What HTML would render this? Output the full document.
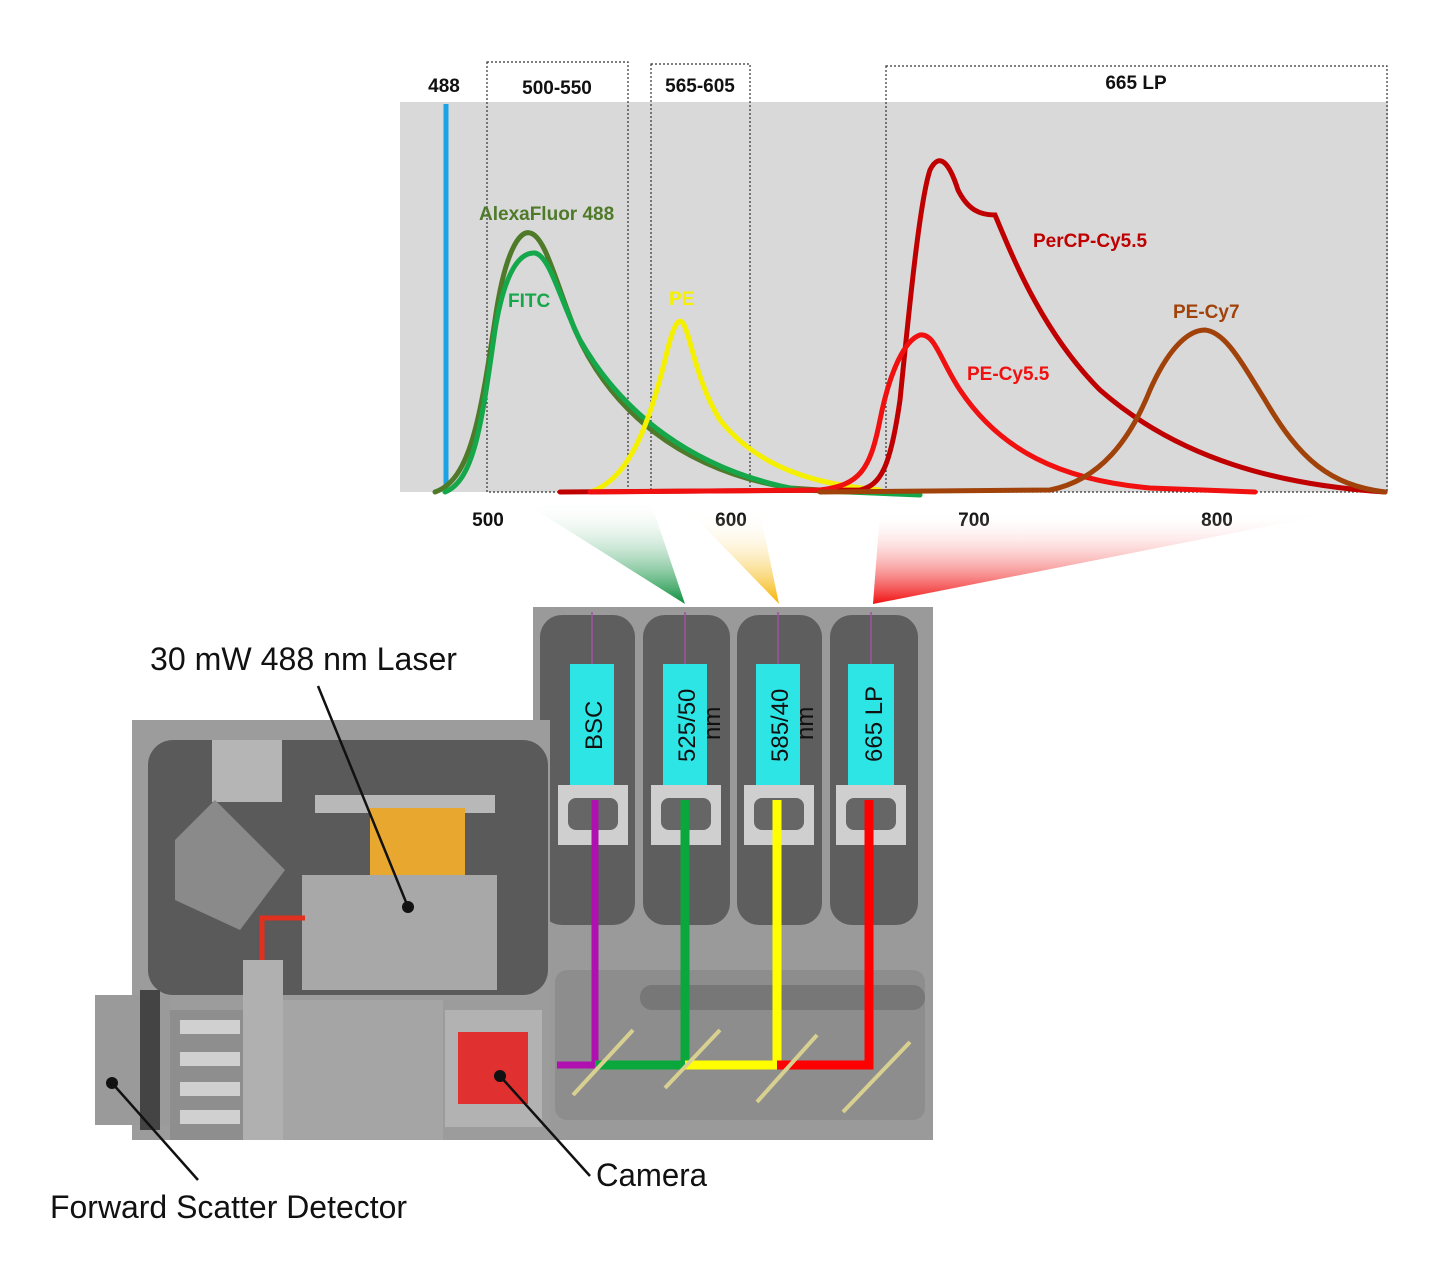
<!DOCTYPE html>
<html><head><meta charset="utf-8"><style>
html,body{margin:0;padding:0;background:#fff;}
svg{display:block;font-family:"Liberation Sans",sans-serif;}
</style></head><body>
<svg width="1443" height="1262" viewBox="0 0 1443 1262" xmlns="http://www.w3.org/2000/svg">
<defs>
<linearGradient id="gg" x1="0" y1="0" x2="0" y2="1"><stop offset="0" stop-color="#fff" stop-opacity="0"/><stop offset="1" stop-color="#0a8f3c"/></linearGradient>
<linearGradient id="go" x1="0" y1="0" x2="0" y2="1"><stop offset="0" stop-color="#fff" stop-opacity="0"/><stop offset="1" stop-color="#f5b400"/></linearGradient>
<linearGradient id="gr" x1="0" y1="0" x2="0" y2="1"><stop offset="0" stop-color="#fff" stop-opacity="0"/><stop offset="1" stop-color="#f01010"/></linearGradient>
</defs>
<rect x="400" y="102" width="988" height="390" fill="#d9d9d9"/>
<g fill="none" stroke="#333" stroke-dasharray="2,2" stroke-width="1.2">
<rect x="487" y="62" width="141" height="430"/>
<rect x="651" y="64" width="99" height="428"/>
<rect x="886" y="66" width="501" height="426"/>
</g>
<line x1="446" y1="104" x2="446" y2="492" stroke="#1aa3e6" stroke-width="5"/>
<g font-weight="bold" font-size="19" fill="#111" text-anchor="middle">
<text x="444" y="92">488</text><text x="557" y="94">500-550</text><text x="700" y="92">565-605</text><text x="1136" y="89">665 LP</text>
<text x="488" y="526">500</text><text x="731" y="526">600</text><text x="974" y="526">700</text><text x="1217" y="526">800</text>
</g>
<g fill="none" stroke-width="5" stroke-linecap="round">
<path d="M435,492 C470,480 480,420 495,320 C505,250 520,230 530,233 C545,236 555,280 575,330 C610,410 680,470 790,488 L850,492" stroke="#4e7a2a"/>
<path d="M445,492 C475,480 482,420 495,330 C505,270 520,252 535,253 C550,256 560,300 580,340 C620,410 690,470 800,490 L920,495" stroke="#15a84a"/>
<path d="M590,492 C630,480 650,420 665,360 C672,330 677,318 682,322 C690,330 695,380 720,420 C760,470 820,485 880,490" stroke="#f5f000"/>
<path d="M560,492 L860,490 C880,485 890,470 900,400 C910,300 920,200 930,170 C940,150 950,165 958,190 C968,210 980,215 995,215 C1010,250 1040,330 1100,390 C1180,460 1280,485 1385,492" stroke="#c00000"/>
<path d="M590,492 L820,490 C860,485 870,470 880,420 C890,370 905,340 920,335 C935,333 940,360 960,390 C1000,450 1060,480 1150,488 L1255,492" stroke="#f01010"/>
<path d="M820,492 L1050,490 C1100,480 1130,440 1150,390 C1170,345 1190,330 1205,330 C1225,332 1240,360 1265,400 C1300,460 1330,485 1385,492" stroke="#a0420a"/>
</g>
<g font-weight="bold" font-size="19">
<text x="479" y="220" fill="#4e7a2a">AlexaFluor 488</text>
<text x="508" y="307" fill="#15a84a">FITC</text>
<text x="669" y="305" fill="#f5f000">PE</text>
<text x="1033" y="247" fill="#c00000">PerCP-Cy5.5</text>
<text x="967" y="380" fill="#f01010">PE-Cy5.5</text>
<text x="1173" y="318" fill="#a0420a">PE-Cy7</text>
</g>
<polygon points="520,500 650,500 685,604" fill="url(#gg)"/>
<polygon points="690,512 760,512 779,604" fill="url(#go)"/>
<polygon points="880,512 1340,512 873,604" fill="url(#gr)"/>
<rect x="533" y="607" width="400" height="533" fill="#9a9a9a"/>
<g fill="#5e5e5e">
<rect x="540" y="615" width="95" height="310" rx="22"/><rect x="643" y="615" width="87" height="310" rx="22"/>
<rect x="737" y="615" width="85" height="310" rx="22"/><rect x="830" y="615" width="88" height="310" rx="22"/>
</g>
<rect x="555" y="970" width="370" height="150" rx="12" fill="#8d8d8d"/>
<rect x="640" y="985" width="285" height="25" rx="12" fill="#777"/>
<g fill="#cfcfcf"><rect x="558" y="785" width="70" height="60"/><rect x="651" y="785" width="70" height="60"/><rect x="744" y="785" width="70" height="60"/><rect x="836" y="785" width="70" height="60"/></g>
<g fill="#666"><rect x="568" y="798" width="50" height="32" rx="8"/><rect x="661" y="798" width="50" height="32" rx="8"/><rect x="754" y="798" width="50" height="32" rx="8"/><rect x="846" y="798" width="50" height="32" rx="8"/></g>
<g fill="#2de5e5"><rect x="570" y="664" width="44" height="121"/><rect x="663" y="664" width="44" height="121"/><rect x="756" y="664" width="44" height="121"/><rect x="848" y="664" width="46" height="121"/></g>
<g stroke="#a050a0" stroke-width="1.5"><line x1="592" y1="612" x2="592" y2="664"/><line x1="685" y1="612" x2="685" y2="664"/><line x1="778" y1="612" x2="778" y2="664"/><line x1="871" y1="612" x2="871" y2="664"/></g>
<g font-size="24" fill="#111">
<text transform="translate(602,750) rotate(-90)">BSC</text>
<text transform="translate(695,762) rotate(-90)">525/50</text>
<text transform="translate(720,740) rotate(-90)">nm</text>
<text transform="translate(788,762) rotate(-90)">585/40</text>
<text transform="translate(813,740) rotate(-90)">nm</text>
<text transform="translate(882,762) rotate(-90)">665 LP</text>
</g>
<g stroke-width="9" fill="none">
<path d="M595,800 V1065 H557" stroke="#b010b0" stroke-width="7"/>
<path d="M685,800 V1065 H595" stroke="#0aa83c"/>
<path d="M777,800 V1065 H685" stroke="#ffff00"/>
<path d="M869,800 V1065 H777" stroke="#ff0000"/>
</g>
<g stroke="#d8d090" stroke-width="4"><line x1="573" y1="1095" x2="633" y2="1030"/><line x1="665" y1="1088" x2="720" y2="1030"/><line x1="757" y1="1102" x2="817" y2="1035"/><line x1="843" y1="1112" x2="910" y2="1042"/></g>
<rect x="132" y="720" width="418" height="420" fill="#9c9c9c"/>
<rect x="148" y="740" width="400" height="255" rx="25" fill="#5a5a5a"/>
<rect x="212" y="740" width="70" height="62" fill="#b5b5b5"/>
<rect x="315" y="795" width="180" height="18" fill="#b8b8b8"/>
<polygon points="175,840 215,800 285,870 240,930 175,900" fill="#8a8a8a"/>
<rect x="370" y="808" width="95" height="67" fill="#e8a830"/>
<rect x="302" y="875" width="195" height="115" fill="#a8a8a8"/>
<path d="M262,960 V918 H305" stroke="#e03020" stroke-width="5" fill="none"/>
<rect x="170" y="1010" width="100" height="130" fill="#8e8e8e"/>
<g fill="#d0d0d0"><rect x="180" y="1020" width="60" height="14"/><rect x="180" y="1052" width="60" height="14"/><rect x="180" y="1082" width="60" height="14"/><rect x="180" y="1110" width="60" height="14"/></g>
<rect x="243" y="960" width="40" height="180" fill="#b0b0b0"/>
<rect x="283" y="1000" width="160" height="140" fill="#a5a5a5"/>
<rect x="445" y="1010" width="97" height="117" fill="#b2b2b2"/>
<rect x="458" y="1032" width="70" height="72" fill="#e03030"/>
<rect x="95" y="995" width="75" height="130" fill="#9a9a9a"/>
<rect x="140" y="990" width="20" height="140" fill="#444"/>
<g stroke="#111" stroke-width="2.5"><line x1="318" y1="686" x2="408" y2="907"/><line x1="500" y1="1076" x2="590" y2="1176"/><line x1="112" y1="1083" x2="198" y2="1180"/></g>
<g fill="#111"><circle cx="408" cy="907" r="6"/><circle cx="500" cy="1076" r="6"/><circle cx="112" cy="1083" r="6"/></g>
<g font-size="32" fill="#111">
<text x="150" y="670" textLength="307" lengthAdjust="spacingAndGlyphs">30 mW 488 nm Laser</text>
<text x="596" y="1186" textLength="111" lengthAdjust="spacingAndGlyphs">Camera</text>
<text x="50" y="1218" textLength="357" lengthAdjust="spacingAndGlyphs">Forward Scatter Detector</text>
</g>
</svg>
</body></html>
